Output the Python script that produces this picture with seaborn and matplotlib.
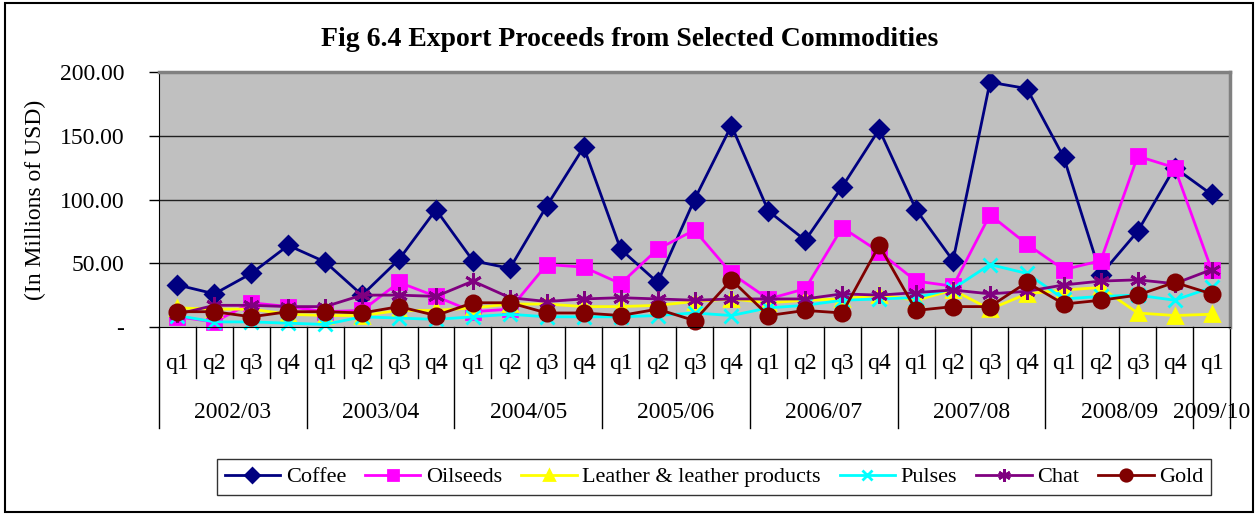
import numpy as np
import pandas as pd
import seaborn as sns
import matplotlib.pyplot as plt
from matplotlib.patches import Rectangle
import matplotlib.transforms as mtransforms

# Data (millions of USD)
years = ["2002/03", "2003/04", "2004/05", "2005/06", "2006/07", "2007/08", "2008/09", "2009/10"]
quarters_per_year = [4, 4, 4, 4, 4, 4, 4, 1]
quarter_names = ["q1", "q2", "q3", "q4"]

coffee = [33, 26, 42, 64, 51, 25, 53, 92, 52, 46, 95, 141, 61, 35, 100, 158,
          91, 68, 110, 155, 92, 52, 192, 187, 133, 41, 75, 125, 104]
oilseeds = [8, 4, 19, 16, 12, 13, 35, 24, 12, 14, 49, 47, 34, 61, 76, 42,
            22, 30, 78, 59, 36, 32, 88, 65, 45, 52, 134, 125, 45]
leather = [15, 14, 14, 10, 9, 9, 13, 13, 15, 18, 18, 16, 16, 17, 20, 22,
           19, 21, 22, 25, 21, 29, 14, 26, 29, 31, 11, 9, 10]
pulses = [9, 4, 4, 3, 2, 8, 7, 6, 8, 10, 8, 8, 8, 9, 11, 9,
          15, 17, 21, 22, 23, 30, 49, 42, 22, 24, 25, 21, 31]
chat = [10, 17, 17, 16, 16, 25, 25, 24, 36, 23, 20, 22, 23, 22, 21, 22,
        22, 22, 26, 25, 27, 29, 26, 28, 33, 36, 37, 34, 45]
gold = [12, 12, 8, 12, 12, 11, 16, 9, 19, 19, 11, 11, 9, 14, 5, 37,
        9, 13, 11, 64, 13, 16, 16, 35, 18, 21, 25, 35, 26]

series_names = ["Coffee", "Oilseeds", "Leather & leather products", "Pulses", "Chat", "Gold"]
series_values = [coffee, oilseeds, leather, pulses, chat, gold]
colors = ["#000080", "#FF00FF", "#FFFF00", "#00FFFF", "#800080", "#800000"]
markers = ["D", "s", "^", "x", (6, 2, 0), "o"]
msizes = [9, 10, 10, 10, 12, 11]

ytick_vals = [0, 50, 100, 150, 200]
ytick_labels = ["-", "50.00", "100.00", "150.00", "200.00"]

# long form table
rows = []
for name, vals in zip(series_names, series_values):
    for i, v in enumerate(vals):
        rows.append({"idx": i, "value": v, "series": name})
df = pd.DataFrame(rows)

plt.rcParams['font.family'] = ['Liberation Serif', 'DejaVu Serif']

fig = plt.figure(figsize=(12.59, 5.15), dpi=100)
ax = fig.add_axes([159 / 1259, 1 - 327 / 515, (1230 - 159) / 1259, (327 - 72) / 515])
ax.set_facecolor("#C0C0C0")

for name, col, mk, ms in zip(series_names, colors, markers, msizes):
    sub = df[df["series"] == name]
    sns.lineplot(data=sub, x="idx", y="value", ax=ax, color=col, marker=mk,
                 markersize=ms, markeredgecolor=col, markeredgewidth=2,
                 linewidth=2, label=name, clip_on=False)

n = len(coffee)
ax.set_xlim(-0.5, n - 0.5)
ax.set_ylim(0, 200)
ax.set_yticks(ytick_vals)
ax.set_yticklabels(ytick_labels, fontsize=17)
ax.tick_params(axis="y", length=7, width=1, color="black", pad=18)
ax.set_xticks([])
ax.set_xlabel("")
ax.set_ylabel("")
for y in ytick_vals[1:-1]:
    ax.axhline(y, color="#202020", lw=1, zorder=0.5)

for s in ["top", "right"]:
    ax.spines[s].set_color("#808080")
    ax.spines[s].set_linewidth(2.5)
ax.spines["left"].set_color("black")
ax.spines["bottom"].set_color("black")

# two-level category axis
trans = mtransforms.blended_transform_factory(ax.transData, ax.transAxes)
ax_h = 327 - 72
short = -51 / ax_h
long = -101 / ax_h
year_edges = np.concatenate([[0], np.cumsum(quarters_per_year)]) - 0.5
k = 0
for yi, (yr, nq) in enumerate(zip(years, quarters_per_year)):
    for q in range(nq):
        ax.text(k, -36 / ax_h, quarter_names[q], transform=trans, ha="center",
                va="center", fontsize=17)
        if q > 0:
            ax.plot([k - 0.5, k - 0.5], [0, short], transform=trans, color="black",
                    lw=1, clip_on=False)
        k += 1
    mid = (year_edges[yi] + year_edges[yi + 1]) / 2
    ax.text(mid, -86 / ax_h, yr, transform=trans, ha="center", va="center", fontsize=17)
for e in year_edges:
    ax.plot([e, e], [0, long], transform=trans, color="black", lw=1, clip_on=False)

ax.legend_.remove()
handles, labels = ax.get_legend_handles_labels()
fig.legend(handles, labels, loc="center", bbox_to_anchor=(714 / 1259, 1 - 477 / 515),
           ncol=6, fontsize=16, frameon=True, fancybox=False, edgecolor="black",
           handlelength=2.5, columnspacing=0.85, handletextpad=0.25, borderpad=0.35,
           markerscale=0.75)

fig.text(630 / 1259, 1 - 40 / 515, "Fig 6.4 Export Proceeds from Selected Commodities",
         ha="center", va="center", fontsize=20, fontweight="bold")
fig.text(35 / 1259, 1 - 200 / 515, "(In Millions of USD)", rotation=90,
         ha="center", va="center", fontsize=17)

fig.patches.append(Rectangle((5 / 1259, 3 / 515), (1253 - 5) / 1259, (512 - 3) / 515,
                             transform=fig.transFigure, fill=False, edgecolor="black", lw=1.5))

fig.savefig("out.png", dpi=100)
